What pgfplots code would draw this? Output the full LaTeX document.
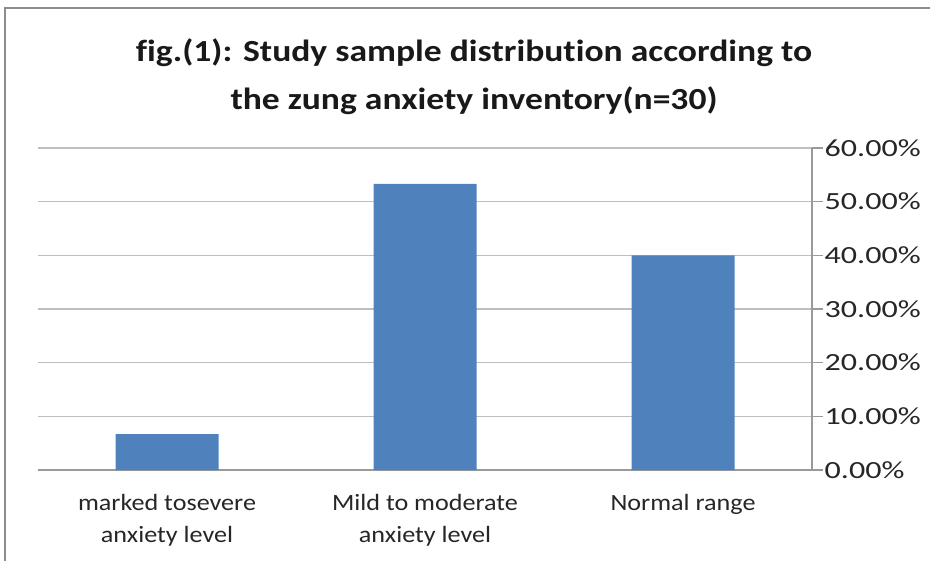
\documentclass[border=0pt]{standalone}
\usepackage{fontspec}
\setmainfont{Carlito}[Ligatures={NoCommon}]
\newfontfamily\titlefont{Carlito}[FakeStretch=1.16, Ligatures={NoCommon}]
\newfontfamily\labelfont{Carlito}[FakeStretch=1.12, Ligatures={NoCommon}]
\newfontfamily\tickfont{Carlito}[FakeStretch=1.3, Ligatures={NoCommon}]
\usepackage{pgfplots}
\pgfplotsset{compat=1.18}
\definecolor{barblue}{HTML}{4F81BD}
\definecolor{gridgray}{HTML}{BEBEBE}
\definecolor{axisgray}{HTML}{9A9A9A}
\definecolor{framegray}{HTML}{8C8C8C}
\begin{document}
\begin{tikzpicture}[x=1pt,y=1pt]
\path[use as bounding box] (0,0) rectangle (697.5,420.75);
\draw[framegray, line width=1.5pt] (3.75,0) -- (3.75,414.75) -- (697.5,414.75);
\node[align=center, font=\titlefont\fontsize{23}{36}\selectfont\bfseries, text=black!90] at (355.5,363)
  {fig.(1): Study sample distribution according to\\the zung anxiety inventory(n=30)};
\begin{axis}[
  at={(28.5pt,68.25pt)}, anchor=south west,
  scale only axis, width=580.5pt, height=241.5pt,
  xmin=-0.5, xmax=2.5, ymin=0, ymax=60,
  axis x line*=bottom, axis y line*=right,
  axis line style={axisgray, line width=1pt},
  /pgf/number format/assume math mode=true,
  ytick={0,10,20,30,40,50,60},
  yticklabel={\pgfmathprintnumber[fixed,fixed zerofill,precision=2]{\tick}\%},
  yticklabel style={anchor=west, xshift=-2pt, font=\tickfont\fontsize{18.5}{22}\selectfont, text=black!85},
  ymajorgrids, grid style={gridgray, line width=1pt},
  tick align=outside, major tick length=8pt,
  tick style={axisgray, line width=1pt},
  xtick={0,1,2},
  xticklabels={{marked tosevere\\anxiety level},{Mild to moderate\\anxiety level},{Normal range}},
  xticklabel style={align=center, anchor=north, yshift=-7pt, font=\labelfont\fontsize{17.5}{24}\selectfont, text=black!85},
  major x tick style={draw=none},
  extra x ticks={-0.5,0.5,1.5,2.5},
  extra x tick labels={},
  extra x tick style={major x tick style={axisgray, line width=1pt}, grid=none},
]
\addplot[ybar, bar width=77.25pt, fill=barblue, draw=none] coordinates {(0,6.67) (1,53.33) (2,40)};
\end{axis}
\end{tikzpicture}
\end{document}
